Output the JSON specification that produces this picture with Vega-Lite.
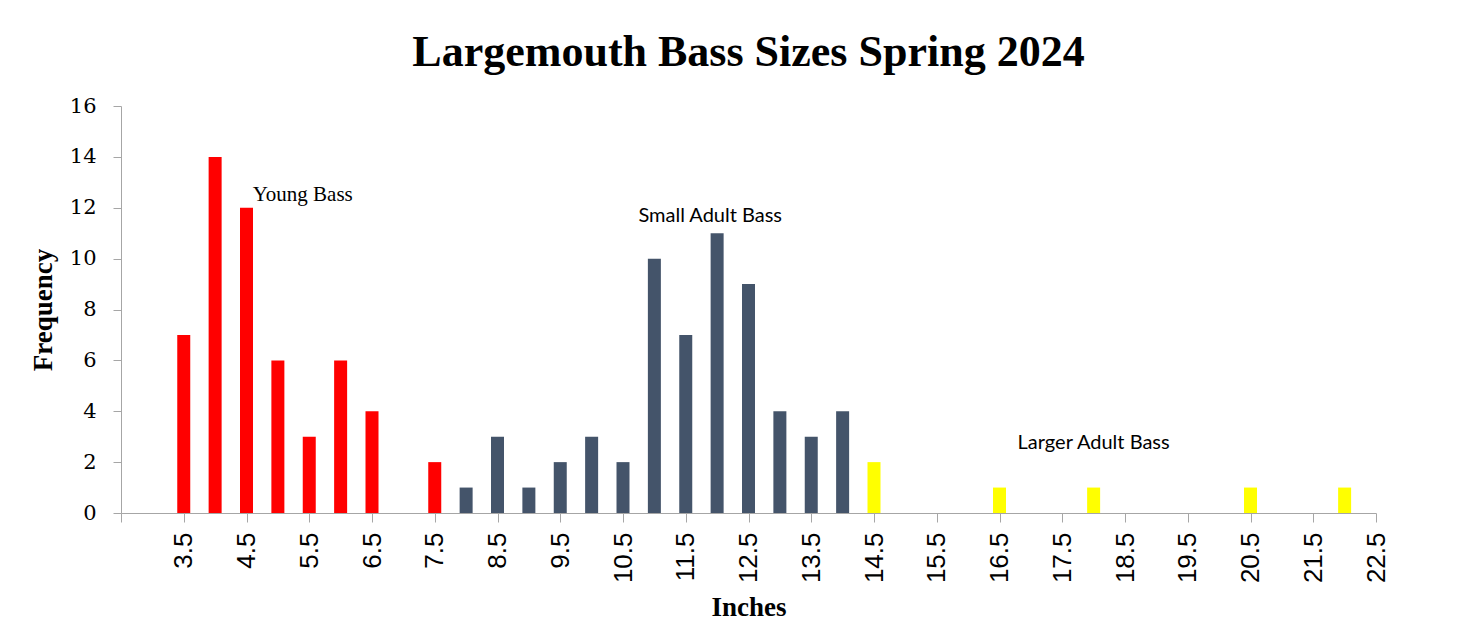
{
  "$schema": "https://vega.github.io/schema/vega-lite/v6.json",
  "autosize": {"type": "none"},
  "width": 1255,
  "height": 407,
  "padding": {"left": 121, "top": 106, "right": 105, "bottom": 122},
  "background": "white",
  "title": {
    "text": "Largemouth Bass Sizes Spring 2024",
    "font": "Liberation Serif",
    "fontSize": 44,
    "fontWeight": "bold",
    "color": "#000000",
    "anchor": "middle",
    "baseline": "alphabetic",
    "offset": -15
  },
  "config": {
    "view": {"stroke": null},
    "axis": {"grid": false, "domainColor": "#A6A6A6", "tickColor": "#A6A6A6", "labelColor": "#000000", "titleColor": "#000000"}
  },
  "datasets": {
    "bars": [
      {"inches": 3.5, "freq": 7, "group": "Young Bass"},
      {"inches": 4.0, "freq": 14, "group": "Young Bass"},
      {"inches": 4.5, "freq": 12, "group": "Young Bass"},
      {"inches": 5.0, "freq": 6, "group": "Young Bass"},
      {"inches": 5.5, "freq": 3, "group": "Young Bass"},
      {"inches": 6.0, "freq": 6, "group": "Young Bass"},
      {"inches": 6.5, "freq": 4, "group": "Young Bass"},
      {"inches": 7.5, "freq": 2, "group": "Young Bass"},
      {"inches": 8.0, "freq": 1, "group": "Small Adult Bass"},
      {"inches": 8.5, "freq": 3, "group": "Small Adult Bass"},
      {"inches": 9.0, "freq": 1, "group": "Small Adult Bass"},
      {"inches": 9.5, "freq": 2, "group": "Small Adult Bass"},
      {"inches": 10.0, "freq": 3, "group": "Small Adult Bass"},
      {"inches": 10.5, "freq": 2, "group": "Small Adult Bass"},
      {"inches": 11.0, "freq": 10, "group": "Small Adult Bass"},
      {"inches": 11.5, "freq": 7, "group": "Small Adult Bass"},
      {"inches": 12.0, "freq": 11, "group": "Small Adult Bass"},
      {"inches": 12.5, "freq": 9, "group": "Small Adult Bass"},
      {"inches": 13.0, "freq": 4, "group": "Small Adult Bass"},
      {"inches": 13.5, "freq": 3, "group": "Small Adult Bass"},
      {"inches": 14.0, "freq": 4, "group": "Small Adult Bass"},
      {"inches": 14.5, "freq": 2, "group": "Larger Adult Bass"},
      {"inches": 16.5, "freq": 1, "group": "Larger Adult Bass"},
      {"inches": 18.0, "freq": 1, "group": "Larger Adult Bass"},
      {"inches": 20.5, "freq": 1, "group": "Larger Adult Bass"},
      {"inches": 22.0, "freq": 1, "group": "Larger Adult Bass"}
    ],
    "labels": [
      {"label": "Young Bass", "x": 4.6, "y": 12.5, "kind": "serif"},
      {"label": "Small Adult Bass", "x": 11.89, "y": 11.67, "kind": "sans"},
      {"label": "Larger Adult Bass", "x": 18.0, "y": 2.75, "kind": "sans"}
    ]
  },
  "layer": [
    {
      "data": {"name": "bars"},
      "mark": {"type": "bar", "width": 13},
      "encoding": {
        "x": {
          "field": "inches",
          "type": "quantitative",
          "scale": {"domain": [2.5, 22.5], "nice": false, "zero": false, "padding": 0},
          "axis": {
            "title": "Inches",
            "titleFont": "Liberation Serif",
            "titleFontSize": 27,
            "titleFontWeight": "bold",
            "titlePadding": 12,
            "values": [2.5, 3, 3.5, 4, 4.5, 5, 5.5, 6, 6.5, 7, 7.5, 8, 8.5, 9, 9.5, 10, 10.5, 11, 11.5, 12, 12.5, 13, 13.5, 14, 14.5, 15, 15.5, 16, 16.5, 17, 17.5, 18, 18.5, 19, 19.5, 20, 20.5, 21, 21.5, 22, 22.5],
            "labelExpr": "(datum.value * 2) % 2 == 1 && datum.value > 3 ? format(datum.value, '.1f') : ''",
            "labelAngle": -90,
            "labelAlign": "right",
            "labelBaseline": "middle",
            "labelFont": "Liberation Sans",
            "labelFontSize": 26,
            "labelPadding": 10,
            "labelOverlap": false,
            "tickSize": 9
          }
        },
        "y": {
          "field": "freq",
          "type": "quantitative",
          "scale": {"domain": [0, 16], "nice": false},
          "axis": {
            "title": "Frequency",
            "titleFont": "Liberation Serif",
            "titleFontSize": 27,
            "titleFontWeight": "bold",
            "titlePadding": 12,
            "values": [0, 2, 4, 6, 8, 10, 12, 14, 16],
            "labelFont": "DejaVu Serif",
            "labelFontSize": 21,
            "labelPadding": 17,
            "tickSize": 8
          }
        },
        "color": {
          "field": "group",
          "type": "nominal",
          "scale": {"domain": ["Young Bass", "Small Adult Bass", "Larger Adult Bass"], "range": ["#FF0000", "#44546A", "#FFFF00"]},
          "legend": null
        }
      }
    },
    {
      "data": {"name": "labels"},
      "transform": [{"filter": "datum.kind == 'serif'"}],
      "mark": {"type": "text", "font": "Liberation Serif", "fontSize": 21, "align": "left", "baseline": "middle", "color": "#000000"},
      "encoding": {
        "x": {"field": "x", "type": "quantitative"},
        "y": {"field": "y", "type": "quantitative"},
        "text": {"field": "label"}
      }
    },
    {
      "data": {"name": "labels"},
      "transform": [{"filter": "datum.kind == 'sans'"}],
      "mark": {"type": "text", "font": "Lato", "fontSize": 20, "align": "center", "baseline": "middle", "color": "#000000"},
      "encoding": {
        "x": {"field": "x", "type": "quantitative"},
        "y": {"field": "y", "type": "quantitative"},
        "text": {"field": "label"}
      }
    }
  ]
}
